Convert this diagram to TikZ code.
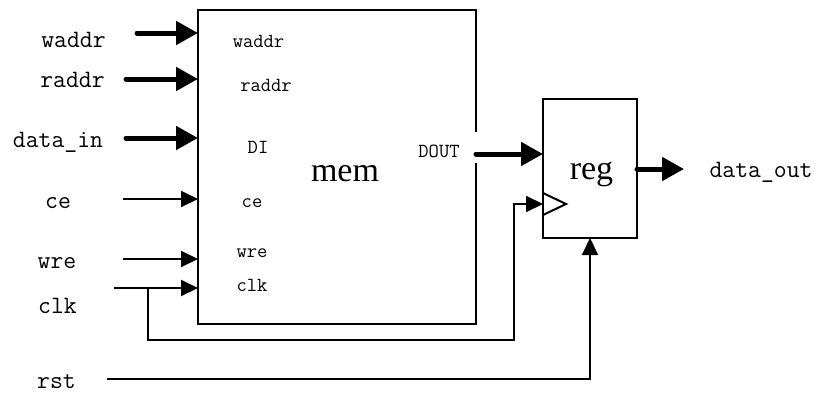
\documentclass[tikz,border=0pt]{standalone}
\usepackage{fontspec}
\setmainfont{Liberation Serif}
\usetikzlibrary{arrows.meta}
\begin{document}
\begin{tikzpicture}[x=1pt,y=-1pt,
  wire/.style={line width=2pt},
  busarrow/.style={line width=5pt,-{Triangle[length=22pt,width=23pt]}},
  sigarrow/.style={line width=2pt,-{Triangle[length=17pt,width=16pt]}},
  outlabel/.style={font=\ttfamily\fontsize{25}{25}\selectfont,anchor=base,inner sep=0pt},
  inlabel/.style={font=\ttfamily\fontsize{20}{20}\selectfont,anchor=base,inner sep=0pt},
  biglabel/.style={font=\fontsize{34}{34}\selectfont,anchor=base,inner sep=0pt}]
\useasboundingbox (0,0) rectangle (814,394);

% blocks
\node[minimum width=278pt,minimum height=314pt,inner sep=0pt,outer sep=0pt] (mem) at (337,167) {};
\node[draw,line width=2pt,minimum width=94pt,minimum height=139pt,inner sep=0pt,outer sep=0pt] (reg) at (590,168.5) {};
\draw[wire] (mem.east |- 0,132) |- (mem.north west) |- (mem.south east) -- (mem.east |- 0,163);
\draw[wire] (reg.west |- 0,193) -- (566,204) -- (reg.west |- 0,215);

% free ends
\coordinate (waddrS) at (137,33);
\coordinate (raddrS) at (126,79);
\coordinate (dinS) at (126,138);
\coordinate (ceS) at (123,199);
\coordinate (wreS) at (123,259);
\coordinate (clkS) at (114,288);
\coordinate (clkB) at (148,288);
\coordinate (clkR) at (514,340);
\coordinate (rstS) at (107,379);
\coordinate (doutS) at (476,154);
\coordinate (dataoutE) at (684,169);

% connectors
\draw[busarrow,line cap=round] (waddrS) -- (mem.west |- waddrS);
\draw[busarrow,line cap=round] (raddrS) -- (mem.west |- raddrS);
\draw[busarrow,line cap=round] (dinS) -- (mem.west |- dinS);
\draw[sigarrow] (ceS) -- (mem.west |- ceS);
\draw[sigarrow] (wreS) -- (mem.west |- wreS);
\draw[sigarrow] (clkS) -- (mem.west |- clkS);
\draw[sigarrow] (clkB) |- (clkR) |- (reg.west |- 0,204);
\draw[sigarrow] (rstS) -| (reg.south);
\draw[busarrow,line cap=round] (doutS) -- (reg.west |- doutS);
\draw[busarrow,line cap=round] (reg.east |- dataoutE) -- (dataoutE);

% outside labels
\node[outlabel] (lwaddr) at (73.5,47) {waddr};
\node[outlabel] (lraddr) at (72.5,87) {raddr};
\node[outlabel] (ldin) at (58,147) {data\_in};
\node[outlabel] (lce) at (58,208) {ce};
\node[outlabel] (lwre) at (57,268) {wre};
\node[outlabel] (lclk) at (57.5,313) {clk};
\node[outlabel] (lrst) at (56.5,388) {rst};
\node[outlabel] (ldout) at (761,177) {data\_out};

% inside labels
\node[inlabel] (pwaddr) at (258.5,47) {waddr};
\node[inlabel] (praddr) at (266,91) {raddr};
\node[inlabel] (pdi) at (258,153) {DI};
\node[inlabel] (pce) at (252,207) {ce};
\node[inlabel] (pwre) at (252,257) {wre};
\node[inlabel] (pclk) at (252,291) {clk};
\node[inlabel] (pdout) at (439,157) {DOUT};
\node[biglabel] (lmem) at (345,181) {mem};
\node[biglabel] (lreg) at (591.5,179) {reg};
\end{tikzpicture}
\end{document}
